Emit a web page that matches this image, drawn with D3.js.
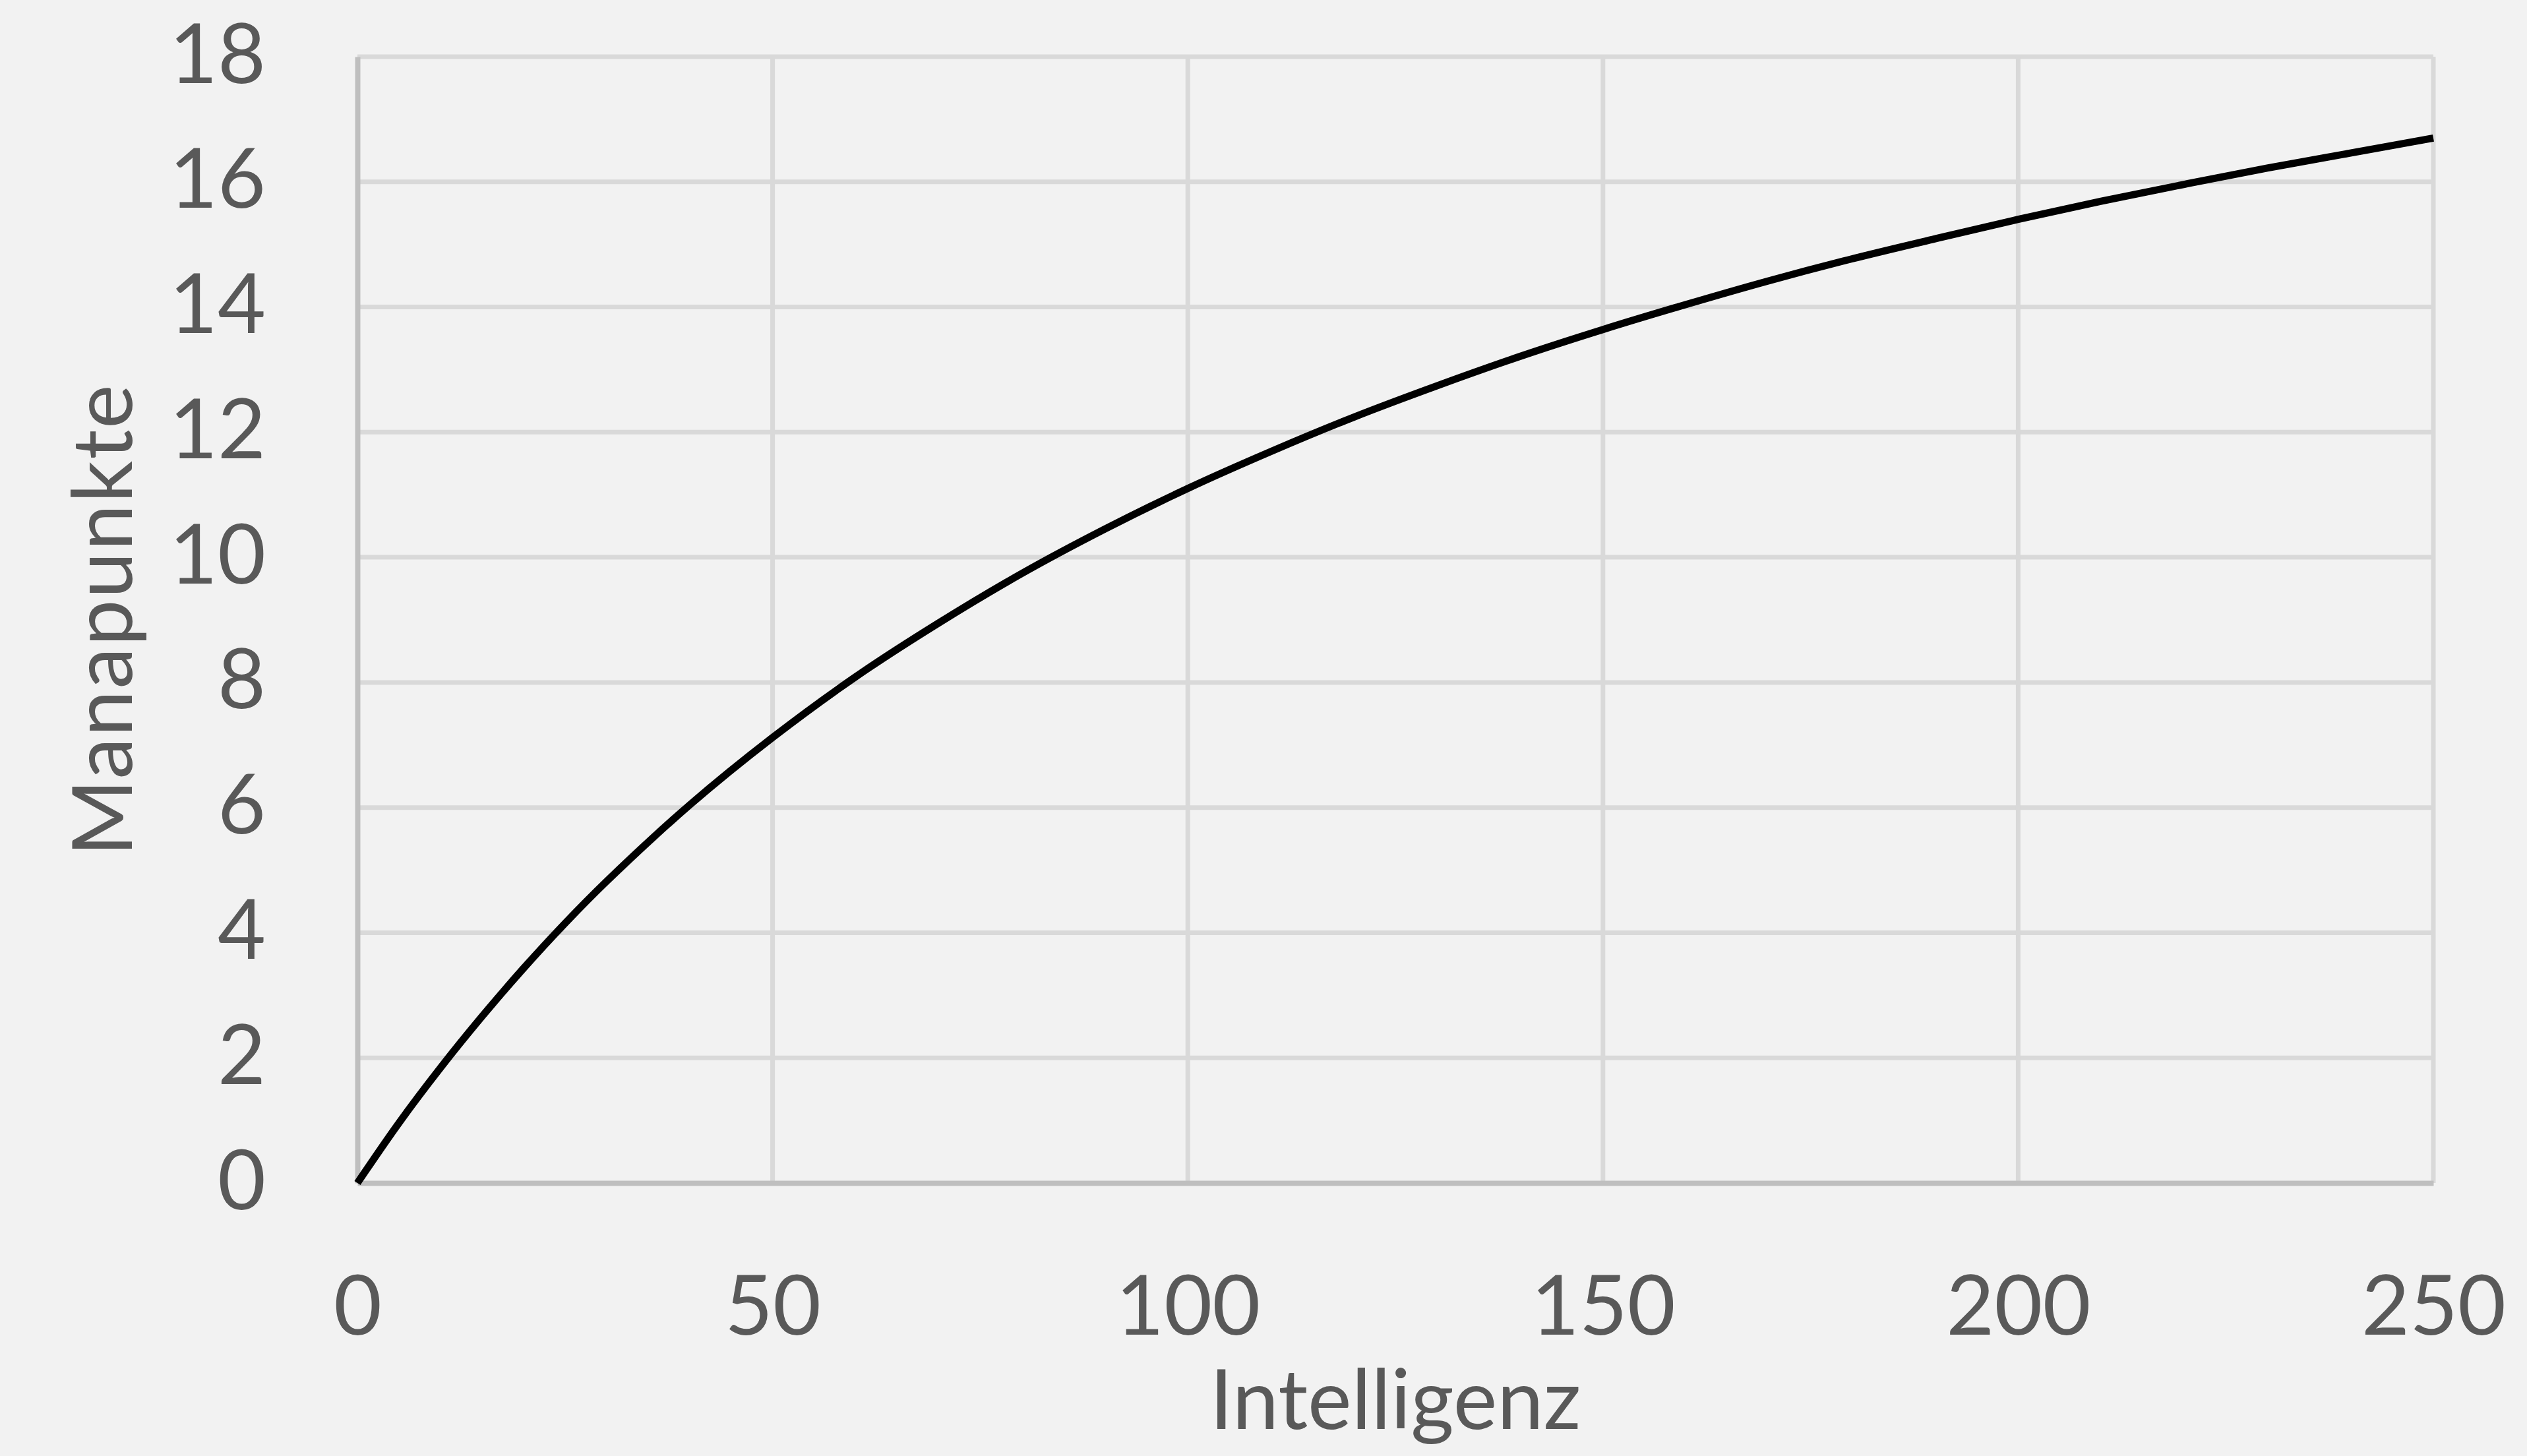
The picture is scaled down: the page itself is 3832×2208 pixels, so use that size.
<!DOCTYPE html>
<html>
<head>
<meta charset="utf-8">
<script src="https://cdn.jsdelivr.net/npm/d3@7"></script>
<style>
  html, body { margin: 0; padding: 0; background: #f2f2f2; }
  svg { display: block; }
  text { font-family: Lato, "Open Sans", sans-serif; fill: #595959; }
</style>
</head>
<body>
<svg id="chart" width="3832" height="2208"></svg>
<script>
// Data
const intelligenz = [0, 5, 10, 15, 20, 25, 30, 40, 50, 60, 70, 80, 90, 100, 110, 120, 130, 140, 150, 160, 170, 180, 190, 200, 210, 220, 230, 240, 250];
const manapunkte  = [0, 0.96, 1.84, 2.66, 3.43, 4.15, 4.82, 6.04, 7.12, 8.09, 8.95, 9.74, 10.45, 11.10, 11.69, 12.24, 12.74, 13.21, 13.64, 14.04, 14.42, 14.77, 15.09, 15.40, 15.69, 15.96, 16.22, 16.46, 16.70];
const xTicks = [0, 50, 100, 150, 200, 250];
const yTicks = [0, 2, 4, 6, 8, 10, 12, 14, 16, 18];
const xTitle = "Intelligenz";
const yTitle = "Manapunkte";

const W = 3832, H = 2208;
const m = { left: 542, right: 3690, top: 86, bottom: 1794 };
const FS = 126;

const svg = d3.select("#chart");
svg.append("rect").attr("width", W).attr("height", H).attr("fill", "#f2f2f2");

const x = d3.scaleLinear().domain([0, 250]).range([m.left, m.right]);
const y = d3.scaleLinear().domain([0, 18]).range([m.bottom, m.top]);

// Gridlines
const grid = svg.append("g");
grid.selectAll("line.h").data(yTicks.filter(d => d > 0)).join("line")
  .attr("x1", m.left).attr("x2", m.right)
  .attr("y1", d => y(d)).attr("y2", d => y(d))
  .attr("stroke", "#d9d9d9").attr("stroke-width", 7);
grid.selectAll("line.v").data(xTicks.filter(d => d > 0)).join("line")
  .attr("x1", d => x(d)).attr("x2", d => x(d))
  .attr("y1", m.top).attr("y2", m.bottom)
  .attr("stroke", "#d9d9d9").attr("stroke-width", 7);

// Axes
const xAxis = svg.append("g").attr("transform", `translate(0,${m.bottom})`)
  .call(d3.axisBottom(x).tickValues(xTicks).tickSize(0).tickPadding(0).tickFormat(d3.format("d")));
xAxis.select(".domain").attr("stroke", "#bfbfbf").attr("stroke-width", 8);
xAxis.selectAll(".tick text")
  .attr("dy", null).attr("y", 230)
  .style("font-size", FS + "px").style("font-family", "Lato, 'Open Sans', sans-serif")
  .attr("fill", "#595959");

const yAxis = svg.append("g").attr("transform", `translate(${m.left},0)`)
  .call(d3.axisLeft(y).tickValues(yTicks).tickSize(0).tickPadding(0).tickFormat(d3.format("d")));
yAxis.select(".domain").attr("stroke", "#bfbfbf").attr("stroke-width", 8);
yAxis.selectAll(".tick text")
  .attr("x", -139).attr("dy", "0.31em")
  .style("font-size", FS + "px").style("font-family", "Lato, 'Open Sans', sans-serif")
  .attr("fill", "#595959");

// Curve
const pts = intelligenz.map((v, i) => [v, manapunkte[i]]);
const line = d3.line().x(d => x(d[0])).y(d => y(d[1])).curve(d3.curveCatmullRom.alpha(0.5));
svg.append("path").datum(pts)
  .attr("d", line)
  .attr("fill", "none").attr("stroke", "#000").attr("stroke-width", 11)
  .attr("stroke-linejoin", "round");

// Titles
svg.append("text")
  .attr("x", (m.left + m.right) / 2).attr("y", 2167)
  .attr("text-anchor", "middle")
  .style("font-size", FS + "px")
  .text(xTitle);

svg.append("text")
  .attr("transform", `translate(200,${(m.top + m.bottom) / 2}) rotate(-90)`)
  .attr("text-anchor", "middle")
  .style("font-size", FS + "px")
  .style("letter-spacing", "2px")
  .text(yTitle);
</script>
</body>
</html>
